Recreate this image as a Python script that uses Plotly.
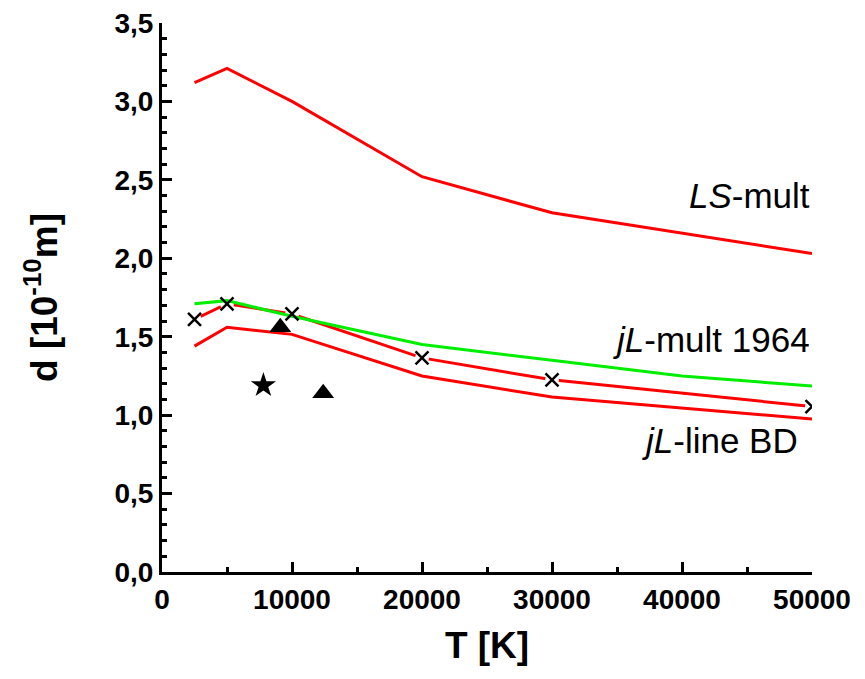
import plotly.graph_objects as go

# Data
T = [2500, 5000, 10000, 20000, 30000, 50000]
ls_mult = [3.12, 3.21, 3.00, 2.52, 2.29, 2.03]
jl_mult_T = [2500, 5000, 10000, 20000, 30000, 40000, 50000]
jl_mult_1964 = [1.71, 1.73, 1.63, 1.45, 1.35, 1.25, 1.185]
jl_mult_x = [1.61, 1.71, 1.645, 1.365, 1.225, 1.055]
jl_line_bd = [1.44, 1.56, 1.515, 1.25, 1.115, 0.975]
star_T = [7800]
star_d = [1.19]
tri_T = [9100, 12400]
tri_d = [1.56, 1.14]

x_ticks = [0, 10000, 20000, 30000, 40000, 50000]
x_ticktext = ["0", "10000", "20000", "30000", "40000", "50000"]
y_ticks = [0, 0.5, 1.0, 1.5, 2.0, 2.5, 3.0, 3.5]
y_ticktext = ["0,0", "0,5", "1,0", "1,5", "2,0", "2,5", "3,0", "3,5"]

RED = "#ff0000"
GREEN = "#00ee00"
FAM = "Liberation Sans, Arial"

fig = go.Figure()
fig.add_trace(go.Scatter(x=T, y=ls_mult, mode="lines", line=dict(color=RED, width=3)))
fig.add_trace(go.Scatter(x=T, y=jl_line_bd, mode="lines", line=dict(color=RED, width=3)))
fig.add_trace(go.Scatter(x=T, y=jl_mult_x, mode="lines", line=dict(color=RED, width=3)))
fig.add_trace(go.Scatter(x=T, y=jl_mult_x, mode="markers",
                         marker=dict(symbol="circle", size=14, color="white")))
fig.add_trace(go.Scatter(x=jl_mult_T, y=jl_mult_1964, mode="lines", line=dict(color=GREEN, width=3)))
fig.add_trace(go.Scatter(x=T, y=jl_mult_x, mode="markers",
                         marker=dict(symbol="x-thin-open", size=13, color="black",
                                     line=dict(color="black", width=2.5))))
fig.add_trace(go.Scatter(x=star_T, y=star_d, mode="markers",
                         marker=dict(symbol="star", size=19, color="black")))
fig.add_trace(go.Scatter(x=tri_T, y=tri_d, mode="markers",
                         marker=dict(symbol="triangle-up", size=19, color="black")))

ann_font = dict(family=FAM, size=35, color="black")
fig.add_annotation(x=50000, y=2.40, text="<i>LS</i>-mult", showarrow=False,
                   xanchor="right", yanchor="middle", font=ann_font)
fig.add_annotation(x=50000, y=1.48, text="<i>jL</i>-mult 1964", showarrow=False,
                   xanchor="right", yanchor="middle", font=ann_font)
fig.add_annotation(x=49100, y=0.84, text="<i>jL</i>-line BD", showarrow=False,
                   xanchor="right", yanchor="middle", font=ann_font)

tick_font = dict(family=FAM, size=28, color="black", weight="bold")
fig.update_layout(
    width=865, height=679,
    margin=dict(l=154, r=61, t=15, b=115),
    paper_bgcolor="white", plot_bgcolor="white",
    showlegend=False,
    font=dict(family=FAM, color="black"),
    xaxis=dict(range=[0, 50000], tickvals=x_ticks, ticktext=x_ticktext, automargin=False,
               showgrid=False, zeroline=False, showline=True, linecolor="black", linewidth=3,
               ticks="inside", ticklen=10, tickwidth=3, tickcolor="black",
               minor=dict(dtick=5000, ticks="inside", ticklen=5, tickwidth=3, tickcolor="black"),
               tickfont=tick_font, ticklabeloverflow="allow",
               title=dict(text="<b>T [K]</b>", font=dict(family=FAM, size=37, color="black"),
                          standoff=19)),
    yaxis=dict(range=[0, 3.5], tickvals=y_ticks, ticktext=y_ticktext, automargin=False,
               showgrid=False, zeroline=False, showline=True, linecolor="black", linewidth=3,
               ticks="inside", ticklen=10, tickwidth=3, tickcolor="black",
               minor=dict(dtick=0.1, ticks="inside", ticklen=5, tickwidth=3, tickcolor="black"),
               tickfont=tick_font, ticklabeloverflow="allow",
               title=dict(text="<b>d [10<sup>-10</sup>m]</b>",
                          font=dict(family=FAM, size=37, color="black"),
                          standoff=46)),
)

fig.write_html("out.html")
